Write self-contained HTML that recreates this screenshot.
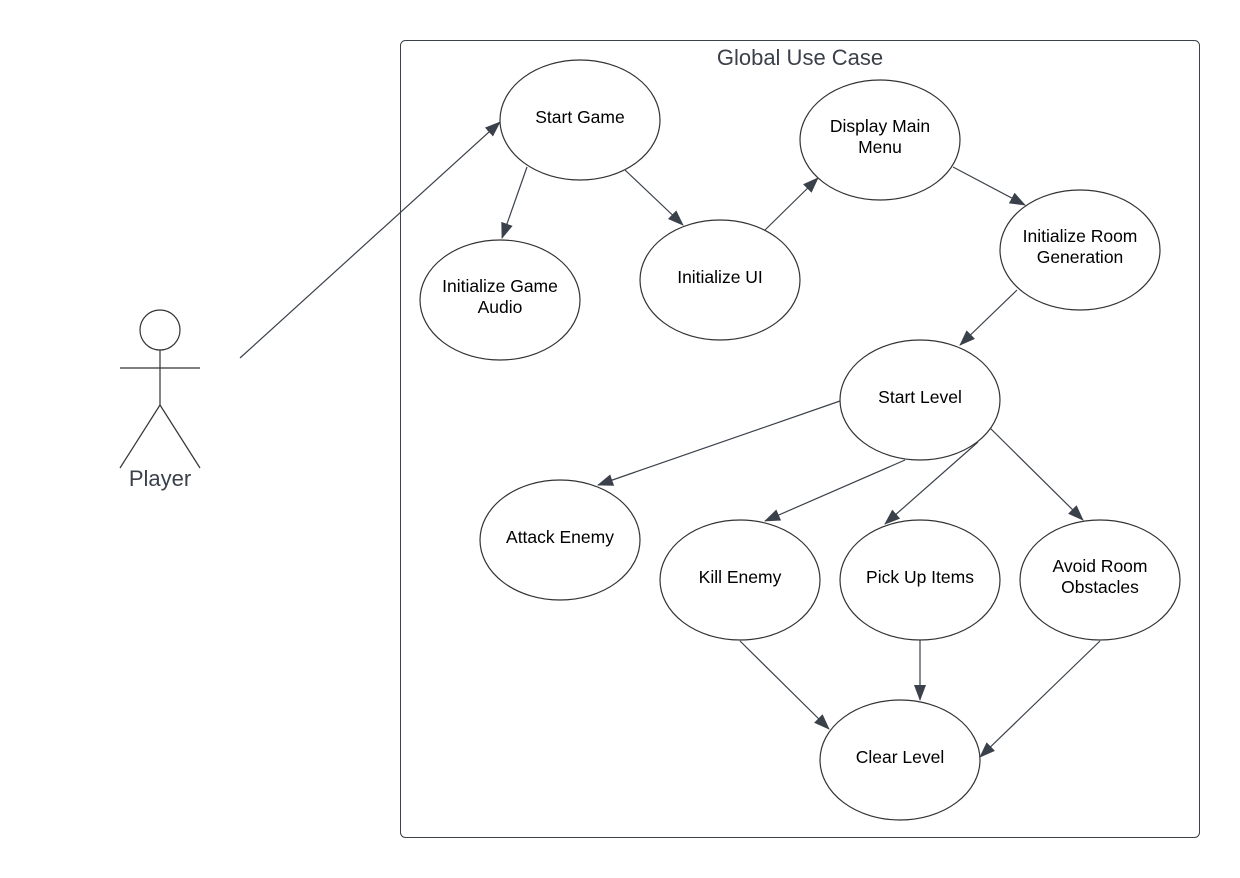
<!DOCTYPE html>
<html><head><meta charset="utf-8"><style>
html,body{margin:0;padding:0;background:#fff;}
svg{display:block;}
text{font-family:"Liberation Sans",sans-serif;}
</style></head><body>
<svg width="1240" height="878" viewBox="0 0 1240 878" xmlns="http://www.w3.org/2000/svg">
<defs>
<marker id="a" markerWidth="16" markerHeight="12" refX="15" refY="6" orient="auto" markerUnits="userSpaceOnUse">
<path d="M0,0 L16,6 L0,12 Z" fill="#3a414a"/>
</marker>
</defs>
<rect x="400.5" y="40.5" width="799" height="797" rx="5" fill="none" stroke="#3a414a" stroke-width="1"/>
<text x="800" y="65" text-anchor="middle" font-size="22" fill="#3a414a">Global Use Case</text>

<g fill="none" stroke="#333" stroke-width="1.2">
<circle cx="160" cy="330" r="20"/>
<line x1="160" y1="350" x2="160" y2="405"/>
<line x1="120" y1="368" x2="200" y2="368"/>
<line x1="160" y1="405" x2="120" y2="468"/>
<line x1="160" y1="405" x2="200" y2="468"/>
</g>
<text x="160" y="486" text-anchor="middle" font-size="22" fill="#3a414a">Player</text>

<g fill="#fff" stroke="#333" stroke-width="1.2">
<ellipse cx="580" cy="120" rx="80" ry="60"/>
<ellipse cx="880" cy="140" rx="80" ry="60"/>
<ellipse cx="500" cy="300" rx="80" ry="60"/>
<ellipse cx="720" cy="280" rx="80" ry="60"/>
<ellipse cx="1080" cy="250" rx="80" ry="60"/>
<ellipse cx="920" cy="400" rx="80" ry="60"/>
<ellipse cx="560" cy="540" rx="80" ry="60"/>
<ellipse cx="740" cy="580" rx="80" ry="60"/>
<ellipse cx="920" cy="580" rx="80" ry="60"/>
<ellipse cx="1100" cy="580" rx="80" ry="60"/>
<ellipse cx="900" cy="760" rx="80" ry="60"/>
</g>

<g stroke="#3a414a" stroke-width="1.2" marker-end="url(#a)">
<line x1="240" y1="358" x2="500" y2="122"/>
<line x1="527" y1="167" x2="502" y2="238"/>
<line x1="625" y1="170" x2="683" y2="225"/>
<line x1="765" y1="230" x2="818" y2="178"/>
<line x1="953" y1="167" x2="1025" y2="205"/>
<line x1="1017" y1="290" x2="960" y2="345"/>
<line x1="840" y1="401" x2="598" y2="485"/>
<line x1="905" y1="460" x2="765" y2="521"/>
<line x1="978" y1="442" x2="885" y2="524"/>
<line x1="990" y1="428" x2="1083" y2="520"/>
<line x1="740" y1="641" x2="829" y2="729"/>
<line x1="920" y1="640" x2="920" y2="700"/>
<line x1="1100" y1="641" x2="980" y2="757"/>
</g>

<g font-size="17.5" fill="#000" text-anchor="middle">
<text x="580" y="123">Start Game</text>
<text x="880" y="132">Display Main</text>
<text x="880" y="153">Menu</text>
<text x="500" y="292">Initialize Game</text>
<text x="500" y="313">Audio</text>
<text x="720" y="283">Initialize UI</text>
<text x="1080" y="242">Initialize Room</text>
<text x="1080" y="263">Generation</text>
<text x="920" y="403">Start Level</text>
<text x="560" y="543">Attack Enemy</text>
<text x="740" y="583">Kill Enemy</text>
<text x="920" y="583">Pick Up Items</text>
<text x="1100" y="572">Avoid Room</text>
<text x="1100" y="593">Obstacles</text>
<text x="900" y="763">Clear Level</text>
</g>
</svg>
</body></html>
